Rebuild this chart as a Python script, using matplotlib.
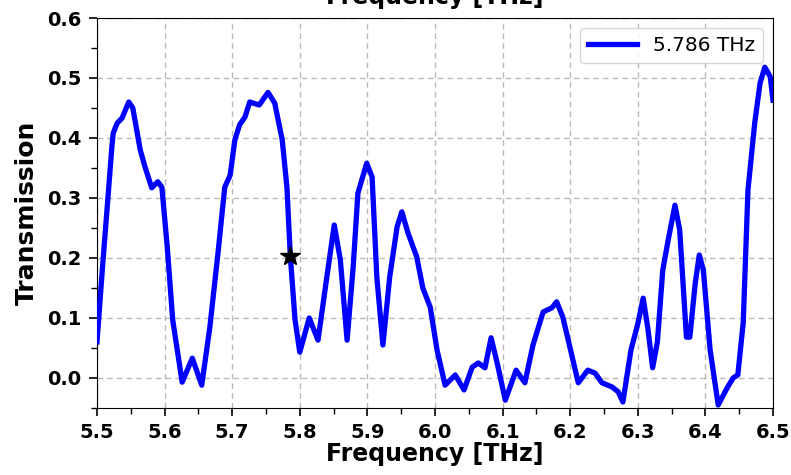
import numpy as np
import matplotlib
matplotlib.use('Agg')
import matplotlib.pyplot as plt
from matplotlib.ticker import MultipleLocator

# transmission spectrum
freq = [5.500, 5.509, 5.516, 5.522, 5.524, 5.530, 5.537, 5.547, 5.553, 5.564,
        5.571, 5.581, 5.590, 5.596, 5.604, 5.612, 5.626, 5.641, 5.655, 5.667,
        5.679, 5.689, 5.697, 5.704, 5.711, 5.719, 5.726, 5.740, 5.753, 5.763,
        5.774, 5.781, 5.786, 5.793, 5.800, 5.814, 5.827, 5.840, 5.851, 5.860,
        5.870, 5.879, 5.886, 5.899, 5.907, 5.914, 5.923, 5.933, 5.944, 5.951,
        5.960, 5.973, 5.982, 5.993, 6.003, 6.015, 6.030, 6.043, 6.055, 6.064,
        6.074, 6.083, 6.092, 6.104, 6.120, 6.133, 6.145, 6.160, 6.173, 6.180,
        6.189, 6.203, 6.212, 6.226, 6.237, 6.247, 6.262, 6.271, 6.278, 6.290,
        6.300, 6.308, 6.315, 6.322, 6.329, 6.337, 6.345, 6.355, 6.362, 6.372,
        6.377, 6.385, 6.391, 6.397, 6.407, 6.419, 6.432, 6.441, 6.448, 6.456,
        6.463, 6.473, 6.481, 6.488, 6.496, 6.500]
trans = [0.060, 0.197, 0.297, 0.385, 0.408, 0.425, 0.433, 0.460, 0.450, 0.380,
         0.352, 0.317, 0.327, 0.318, 0.218, 0.097, -0.007, 0.033, -0.012, 0.085,
         0.208, 0.318, 0.338, 0.397, 0.422, 0.435, 0.460, 0.455, 0.476, 0.458,
         0.397, 0.318, 0.203, 0.097, 0.043, 0.100, 0.063, 0.168, 0.255, 0.197,
         0.063, 0.185, 0.308, 0.358, 0.335, 0.168, 0.055, 0.168, 0.252, 0.277,
         0.242, 0.202, 0.150, 0.118, 0.047, -0.012, 0.005, -0.020, 0.018, 0.025,
         0.017, 0.067, 0.025, -0.037, 0.013, -0.008, 0.055, 0.110, 0.117, 0.127,
         0.102, 0.035, -0.008, 0.013, 0.008, -0.008, -0.015, -0.023, -0.040, 0.047,
         0.090, 0.133, 0.082, 0.017, 0.060, 0.180, 0.230, 0.288, 0.247, 0.068,
         0.068, 0.158, 0.205, 0.180, 0.047, -0.045, -0.017, 0.000, 0.005, 0.092,
         0.313, 0.425, 0.492, 0.518, 0.502, 0.463]

# selected frequency
f_sel = 5.786
t_sel = 0.203

fig = plt.figure(figsize=(7.91, 4.75), dpi=100)
ax = fig.add_axes([0.1226, 0.1411, 0.8546, 0.8210])

ax.plot(freq, trans, color='blue', lw=3.8, label='5.786 THz', zorder=3,
        solid_joinstyle='round')
ax.plot(f_sel, t_sel, marker='*', color='black', markersize=15, zorder=4)

ax.set_xlim(5.5, 6.5)
ax.set_ylim(-0.05, 0.6)
ax.xaxis.set_major_locator(MultipleLocator(0.1))
ax.xaxis.set_minor_locator(MultipleLocator(0.05))
ax.yaxis.set_major_locator(MultipleLocator(0.1))
ax.yaxis.set_minor_locator(MultipleLocator(0.05))
ax.tick_params(which='major', length=6, width=1.2, labelsize=14, pad=5)
ax.tick_params(which='minor', length=4, width=1)
for lbl in ax.get_xticklabels() + ax.get_yticklabels():
    lbl.set_fontweight('bold')

ax.grid(True, which='major', linestyle=(0, (4, 3)), color='gray', alpha=0.55, lw=1)

ax.set_xlabel('Frequency [THz]', fontsize=17, fontweight='bold', labelpad=0)
ax.set_ylabel('Transmission', fontsize=18, fontweight='bold', labelpad=6)
fig.text(0.55, 1 - 4/475, 'Frequency [THz]', fontsize=17, fontweight='bold',
         ha='center', va='baseline')

ax.legend(loc='upper right', fontsize=14.5, handlelength=2.4)

fig.savefig('out.png', dpi=100)
